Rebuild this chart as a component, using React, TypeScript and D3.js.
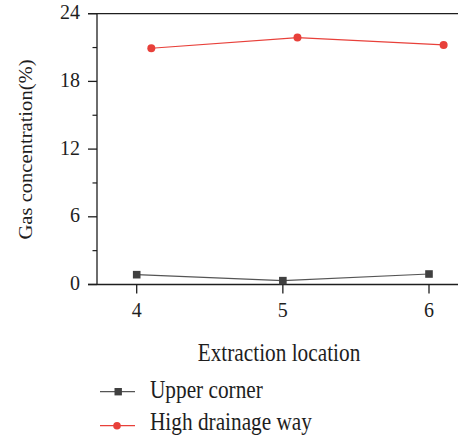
import React from "react";
import * as d3 from "d3";

const upperX = [4, 5, 6];
const upperY = [0.87, 0.34, 0.93];
const highX = [4.1, 5.1, 6.1];
const highY = [20.94, 21.88, 21.23];
const xTicks = [4, 5, 6];
const yTicks = [0, 6, 12, 18, 24];
const yMinor = [3, 9, 15, 21];
const seriesNames = ["Upper corner", "High drainage way"];

const W = 458;
const H = 439;
const FONT = "'Liberation Serif', 'DejaVu Serif', serif";

export default function App() {
  const x = d3.scaleLinear().domain([4, 6]).range([136.7, 429]);
  const y = d3.scaleLinear().domain([0, 24]).range([284.5, 13.7]);
  const left = 97;
  const axisStart = 88;
  const line = d3
    .line<[number, number]>()
    .x((d) => x(d[0]))
    .y((d) => y(d[1]));
  const upperPts = upperX.map((v, i) => [v, upperY[i]] as [number, number]);
  const highPts = highX.map((v, i) => [v, highY[i]] as [number, number]);
  const grey = "#404040";
  const red = "#e8403a";
  const ink = "#1e1e1e";
  return (
    <svg
      width={W}
      height={H}
      style={{ position: "absolute", left: 0, top: 0, background: "#fff" }}
      fontFamily={FONT}
    >
      {/* axes */}
      <line x1={axisStart} x2={W} y1={y(24)} y2={y(24)} stroke={ink} strokeWidth={1.3} />
      <line x1={axisStart} x2={W} y1={y(0)} y2={y(0)} stroke={ink} strokeWidth={1.3} />
      <line x1={left} x2={left} y1={y(24)} y2={y(0)} stroke={ink} strokeWidth={1.3} />
      {yTicks.map((t) => (
        <g key={t}>
          <line x1={axisStart} x2={left} y1={y(t)} y2={y(t)} stroke={ink} strokeWidth={1.3} />
          <text x={80} y={y(t) + 5.5} textAnchor="end" fontSize={20} fill={ink}>
            {t}
          </text>
        </g>
      ))}
      {yMinor.map((t) => (
        <line key={t} x1={92.5} x2={left} y1={y(t)} y2={y(t)} stroke={ink} strokeWidth={1.2} />
      ))}
      {xTicks.map((t) => (
        <g key={t}>
          <line x1={x(t)} x2={x(t)} y1={y(0)} y2={y(0) + 9} stroke={ink} strokeWidth={1.3} />
          <text
            transform={`translate(${x(t)},316.5) scale(1,1.1)`}
            textAnchor="middle"
            fontSize={20}
            fill={ink}
          >
            {t}
          </text>
        </g>
      ))}
      <text
        transform={`translate(32,149.5) rotate(-90) scale(1,0.92)`}
        textAnchor="middle"
        fontSize={20.6}
        fill={ink}
      >
        Gas concentration(%)
      </text>
      <text
        transform="translate(279,360.5) scale(1,1.18)"
        textAnchor="middle"
        fontSize={21.3}
        fill={ink}
      >
        Extraction location
      </text>

      {/* series */}
      <path d={line(upperPts) || ""} fill="none" stroke="#555" strokeWidth={1.2} />
      {upperPts.map((p, i) => (
        <rect key={i} x={x(p[0]) - 3.8} y={y(p[1]) - 3.8} width={7.6} height={7.6} fill={grey} />
      ))}
      <path d={line(highPts) || ""} fill="none" stroke={red} strokeWidth={1.2} />
      {highPts.map((p, i) => (
        <circle key={i} cx={x(p[0])} cy={y(p[1])} r={4} fill={red} />
      ))}

      {/* legend */}
      <g>
        <line x1={100} x2={135} y1={391.7} y2={391.7} stroke="#555" strokeWidth={1.2} />
        <rect x={114.5} y={388} width={7.4} height={7.4} fill={grey} />
        <text
          transform="translate(150,397.5) scale(1,1.18)"
          fontSize={21.3}
          fill={ink}
        >
          {seriesNames[0]}
        </text>
        <line x1={100} x2={135} y1={425.7} y2={425.7} stroke={red} strokeWidth={1.2} />
        <circle cx={117} cy={425.7} r={3.8} fill={red} />
        <text
          transform="translate(150,430) scale(1,1.18)"
          fontSize={21.3}
          fill={ink}
        >
          {seriesNames[1]}
        </text>
      </g>
    </svg>
  );
}
